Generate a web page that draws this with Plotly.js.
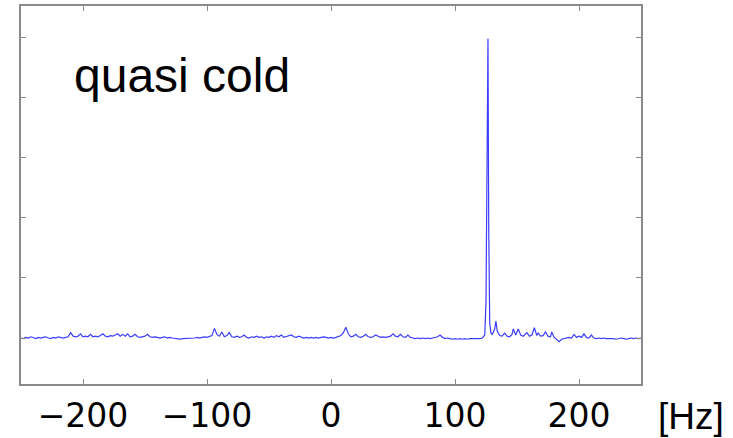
<!DOCTYPE html>
<html>
<head>
<meta charset="utf-8">
<script src="https://cdn.plot.ly/plotly-3.0.1.min.js"></script>
<style>html,body{margin:0;padding:0;background:#fff;}#chart{width:733px;height:438px;}</style>
</head>
<body>
<div id="chart"></div>
<script>
// Frequency axis [Hz]
const freq = [
-250,-248,-246,-244,-242,-240,-238,-236,-234,-232,-230,-228,-226,-224,-222,-220,-218,-216,-214,-212,
-210,-208,-206,-204,-202,-200,-198,-196,-194,-192,-190,-188,-186,-184,-182,-180,-178,-176,-174,-172,
-170,-168,-166,-164,-162,-160,-158,-156,-154,-152,-150,-148,-146,-144,-142,-140,-138,-136,-134,-132,
-130,-128,-126,-124,-122,-120,-118,-116,-114,-112,-110,-108,-106,-104,-102,-100,-98,-96,-94,-92,
-90,-88,-86,-84,-82,-80,-78,-76,-74,-72,-70,-68,-66,-64,-62,-60,-58,-56,-54,-52,
-50,-48,-46,-44,-42,-40,-38,-36,-34,-32,-30,-28,-26,-24,-22,-20,-18,-16,-14,-12,
-10,-8,-6,-4,-2,0,2,4,6,8,10,12,14,16,18,20,22,24,26,28,
30,32,34,36,38,40,42,44,46,48,50,52,54,56,58,60,62,64,66,68,
70,72,74,76,78,80,82,84,86,88,90,92,94,96,98,100,102,104,106,108,
110,112,114,116,118,120,122,124,125,126,126.6,127.2,128,129,130,132,133,134,136,138,
140,142,144,146,147,149,151,153,155,158,160,162,164,166,167,169,171,173,175,177,
178,180,182,184,186,188,190,192,194,196,198,200,202,204,206,208,210,212,214,216,
218,220,222,224,226,228,230,232,234,236,238,240,242,244,246,248,250
];
// Spectral amplitude (arbitrary units)
const amp = [
0.00,-0.01,0.01,0.00,0.02,0.00,-0.01,0.01,0.00,0.01,0.02,0.00,-0.01,0.01,0.00,0.02,0.01,0.00,0.01,0.02,
0.09,0.03,0.02,0.03,0.07,0.02,0.03,0.02,0.06,0.02,0.03,0.02,0.04,0.07,0.03,0.02,0.04,0.03,0.05,0.07,
0.03,0.06,0.03,0.07,0.02,0.03,0.06,0.02,0.01,0.02,0.03,0.06,0.02,0.01,0.02,0.01,0.00,0.01,0.02,0.00,
0.01,0.00,-0.01,-0.01,-0.02,-0.01,-0.01,0.00,-0.01,0.00,0.00,0.01,0.00,0.01,0.02,0.01,0.02,0.04,0.16,0.06,
0.03,0.10,0.02,0.04,0.09,0.02,0.01,0.03,0.01,0.02,0.05,0.01,0.00,0.02,0.01,0.03,0.01,0.02,0.00,0.02,
0.01,0.03,0.01,0.04,0.02,0.05,0.01,0.02,0.03,0.05,0.02,0.01,0.03,0.01,0.00,0.01,0.00,0.01,0.00,0.01,
0.00,0.01,0.02,0.01,0.00,0.01,0.00,0.01,0.02,0.04,0.09,0.18,0.07,0.02,0.03,0.06,0.02,0.01,0.03,0.06,
0.02,0.01,0.02,0.05,0.03,0.01,0.02,0.01,0.02,0.03,0.07,0.03,0.02,0.06,0.02,0.01,0.05,0.01,0.00,-0.01,
0.00,-0.01,0.00,-0.01,0.00,-0.01,0.00,0.01,0.02,0.05,0.01,-0.01,0.00,-0.01,-0.02,-0.01,-0.02,-0.01,-0.02,-0.01,
-0.02,-0.01,-0.01,-0.02,-0.01,-0.01,0.00,0.05,0.60,3.20,4.97,1.80,0.25,0.08,0.06,0.15,0.28,0.12,0.04,0.03,
0.08,0.03,0.02,0.06,0.15,0.05,0.15,0.05,0.03,0.09,0.03,0.05,0.17,0.04,0.08,0.03,0.04,0.10,0.03,0.02,
0.10,0.01,-0.03,-0.06,-0.02,-0.01,0.00,0.01,0.00,0.06,0.01,0.03,0.01,0.07,0.01,0.00,0.05,0.00,-0.01,0.00,
-0.01,0.00,-0.01,-0.01,0.00,-0.01,-0.02,-0.01,0.00,-0.01,-0.02,-0.01,0.00,-0.01,0.00,-0.01,0.00
];
const xTicks = [-200, -100, 0, 100, 200];
const yTicks = [0, 1, 2, 3, 4, 5];
const label = "quasi cold";
const unit = "[Hz]";

const trace = {
  x: freq, y: amp, type: 'scatter', mode: 'lines',
  line: {color: '#3c3cff', width: 1.2},
  hoverinfo: 'skip'
};

const layout = {
  width: 733, height: 438,
  margin: {l: 21, r: 92, t: 6, b: 54, pad: 0},
  paper_bgcolor: '#fff', plot_bgcolor: '#fff',
  showlegend: false,
  xaxis: {
    range: [-250, 250], tickmode: 'array', tickvals: xTicks,
    showgrid: false, zeroline: false,
    showline: true, mirror: 'allticks', linecolor: '#8a8a8a', linewidth: 2,
    ticks: 'inside', ticklen: 5, tickwidth: 1, tickcolor: '#8a8a8a',
    ticklabelstandoff: 1,
    tickfont: {family: 'DejaVu Sans', size: 33, color: '#000'}
  },
  yaxis: {
    range: [-0.764, 5.515], tickmode: 'array', tickvals: yTicks,
    showticklabels: false, showgrid: false, zeroline: false,
    showline: true, mirror: 'allticks', linecolor: '#8a8a8a', linewidth: 2,
    ticks: 'inside', ticklen: 5, tickwidth: 1, tickcolor: '#8a8a8a'
  },
  annotations: [
    {text: label, xref: 'paper', yref: 'paper', x: 0.082, y: 0.817,
     xanchor: 'left', yanchor: 'middle', showarrow: false,
     font: {family: 'Liberation Sans, Arial', size: 48, color: '#000'}},
    {text: unit, xref: 'paper', yref: 'paper', x: 1.081, y: -0.087,
     xanchor: 'center', yanchor: 'middle', showarrow: false,
     font: {family: 'Liberation Sans, Arial', size: 37, color: '#000'}}
  ]
};

Plotly.newPlot('chart', [trace], layout, {displayModeBar: false, staticPlot: true});
</script>
</body>
</html>
